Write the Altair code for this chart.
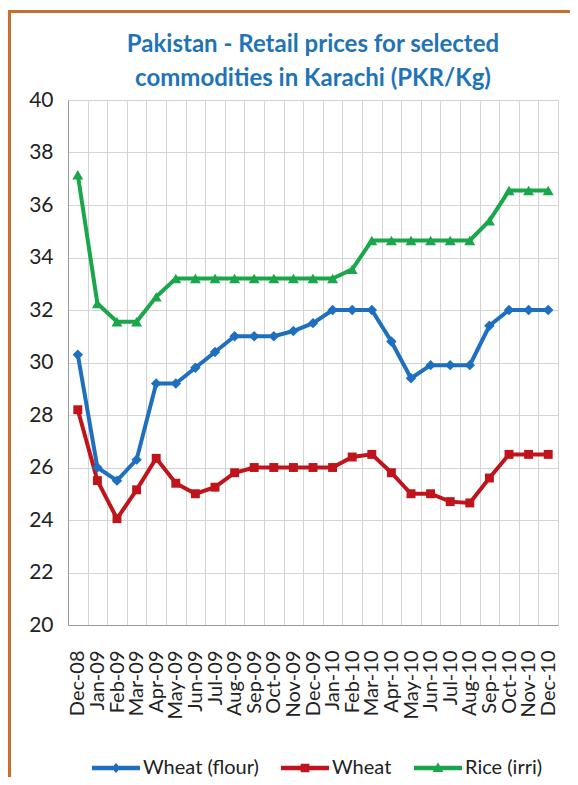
import altair as alt
import pandas as pd

months = ["Dec-08", "Jan-09", "Feb-09", "Mar-09", "Apr-09", "May-09", "Jun-09", "Jul-09",
          "Aug-09", "Sep-09", "Oct-09", "Nov-09", "Dec-09", "Jan-10", "Feb-10", "Mar-10",
          "Apr-10", "May-10", "Jun-10", "Jul-10", "Aug-10", "Sep-10", "Oct-10", "Nov-10", "Dec-10"]
wheat_flour = [30.3, 26.0, 25.5, 26.3, 29.2, 29.2, 29.8, 30.4, 31.0, 31.0, 31.0, 31.2, 31.5,
               32.0, 32.0, 32.0, 30.8, 29.4, 29.9, 29.9, 29.9, 31.4, 32.0, 32.0, 32.0]
wheat = [28.2, 25.5, 24.05, 25.15, 26.35, 25.4, 25.0, 25.25, 25.8, 26.0, 26.0, 26.0, 26.0,
         26.0, 26.4, 26.5, 25.8, 25.0, 25.0, 24.7, 24.65, 25.6, 26.5, 26.5, 26.5]
rice = [37.15, 32.25, 31.55, 31.55, 32.5, 33.2, 33.2, 33.2, 33.2, 33.2, 33.2, 33.2, 33.2,
        33.2, 33.55, 34.65, 34.65, 34.65, 34.65, 34.65, 34.65, 35.4, 36.55, 36.55, 36.55]

series_names = ["Wheat (flour)", "Wheat", "Rice (irri)"]
series_colors = ["#1f6fbf", "#c0141c", "#1aa64b"]
point_shapes = ["diamond", "square", "triangle-up"]
point_sizes = [110, 80, 120]
legend_paths = [
    "M-1,-0.09H1V0.09H-1Z M0,-0.22L0.17,0L0,0.22L-0.17,0Z",
    "M-1,-0.09H1V0.09H-1Z M-0.18,-0.18H0.18V0.18H-0.18Z",
    "M-1,-0.09H1V0.09H-1Z M0,-0.24L0.22,0.17H-0.22Z",
]

rows = []
for name, vals in zip(series_names, [wheat_flour, wheat, rice]):
    for m, v in zip(months, vals):
        rows.append({"month": m, "price": v, "series": name})
df = pd.DataFrame(rows)

FONT = "Lato"

x_enc = alt.X("month:N", sort=months, title=None,
              scale=alt.Scale(paddingInner=0, paddingOuter=0),
              axis=alt.Axis(tickBand="extent", labelAngle=-90, labelFontSize=20,
                            labelColor="#222222", labelFont=FONT, labelPadding=25,
                            ticks=False, grid=True, gridColor="#d4d4d4", labelOverlap=False,
                            domainColor="#9a9a9a", labelBaseline="middle", labelAlign="right"))
y_enc = alt.Y("price:Q", title=None,
              scale=alt.Scale(domain=[20, 40], nice=False, zero=False),
              axis=alt.Axis(values=list(range(20, 41, 2)), labelFontSize=21, labelColor="#222222",
                            labelFont=FONT, labelPadding=15, ticks=False, grid=True,
                            gridColor="#d4d4d4", domainColor="#9a9a9a"))
color_scale = alt.Scale(domain=series_names, range=series_colors)

legend_def = alt.Legend(title=None, orient="none", direction="horizontal",
                        legendX=24, legendY=644, symbolSize=2300,
                        labelFontSize=20, labelFont=FONT, labelColor="#222222",
                        columnPadding=22, labelOffset=3, symbolStrokeWidth=0)

base = alt.Chart(df)

lines = base.mark_line(strokeWidth=4).encode(
    x=x_enc, y=y_enc,
    color=alt.Color("series:N", scale=color_scale, legend=legend_def),
    detail="series:N",
)

point_layers = []
for name, shp, sz in zip(series_names, point_shapes, point_sizes):
    point_layers.append(
        base.transform_filter(alt.datum.series == name)
        .mark_point(shape=shp, size=sz, filled=True, opacity=1)
        .encode(x=x_enc, y=y_enc,
                color=alt.Color("series:N", scale=color_scale, legend=legend_def))
    )

legend_layer = base.transform_filter("false").mark_point(filled=True, opacity=1).encode(
    x=x_enc, y=y_enc,
    color=alt.Color("series:N", scale=color_scale, legend=legend_def),
    shape=alt.Shape("series:N", scale=alt.Scale(domain=series_names, range=legend_paths),
                    legend=legend_def),
)

frame = alt.Chart(alt.Data(values=[{}])).mark_rect(
    fill=None, stroke="#c96f2c", strokeWidth=3, clip=False
).encode(x=alt.value(-58.5), x2=alt.value(560), y=alt.value(-88.5), y2=alt.value(720))

chart = alt.layer(frame, lines, *point_layers, legend_layer).properties(
    width=490, height=525,
    title=alt.TitleParams(
        text=["Pakistan - Retail prices for selected", "commodities in Karachi (PKR/Kg)"],
        font=FONT, fontSize=24, fontWeight="bold", color="#1f74b8", frame="group",
        anchor="middle", lineHeight=34, offset=0, dy=81),
    autosize=alt.AutoSizeParams(type="none"),
    padding={"left": 60, "top": 92, "right": 12, "bottom": 152},
).configure_view(stroke="#c8c8c8", strokeWidth=1).configure(background="white")

chart.save("out.html", embed_options={"renderer": "svg", "actions": False})
